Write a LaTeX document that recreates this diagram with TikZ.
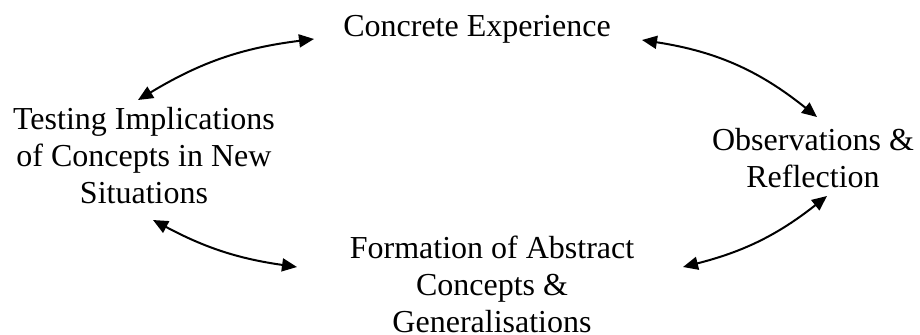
\documentclass[tikz,border=0pt]{standalone}
\usepackage{fontspec}
\setmainfont{Liberation Serif}
\usetikzlibrary{arrows.meta,calc}

\begin{document}
\begin{tikzpicture}[x=0.5pt,y=0.5pt,
	stage/.style={align=center,inner sep=0pt,font=\fontsize{16}{18.5}\selectfont},
	link/.style={line width=1pt,{Triangle[length=7.5pt,width=6.5pt]}-{Triangle[length=7.5pt,width=6.5pt]}}]
	\useasboundingbox (0,0) rectangle (920,334);
	
	% base = last line
	\node[stage,anchor=base] (conc) at (477,298) {Concrete Experience};
	\node[stage,anchor=base] (test) at (144,131) {Testing Implications\\of Concepts in New\\Situations};
	\node[stage,anchor=base] (obs) at (813,147) {Observations \&\\Reflection};
	\node[stage,anchor=base] (form) at (492,2) {Formation of Abstract\\Concepts \&\\Generalisations};
	
	% arrow ends
	\coordinate (t1) at (138,234);
	\coordinate (c1) at (314,295);
	\coordinate (c2) at (642,294);
	\coordinate (o1) at (817,217);
	\coordinate (t2) at (153,114);
	\coordinate (f1) at (297,67);
	\coordinate (f2) at (683,67);
	\coordinate (o2) at (827,138);
	
	\draw[link] (t1) to[bend left=12] (c1);
	\draw[link] (c2) to[bend left=15] (o1);
	\draw[link] (t2) to[bend right=10] (f1);
	\draw[link] (f2) to[bend right=12] (o2);
\end{tikzpicture}
\end{document}
